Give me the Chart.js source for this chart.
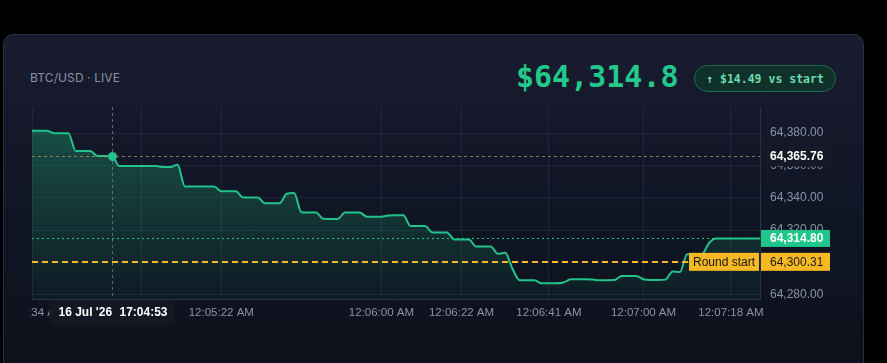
<!DOCTYPE html>
<html>
<head>
<meta charset="utf-8">
<script src="https://cdn.jsdelivr.net/npm/chart.js@4.4.0/dist/chart.umd.min.js"></script>
<style>
  html, body { margin: 0; padding: 0; background: #000; width: 887px; height: 363px; overflow: hidden; }
  .card {
    position: absolute; left: 3px; top: 34px; width: 861px; height: 360px;
    box-sizing: border-box; border: 1px solid #272b45; border-radius: 10px;
    background: linear-gradient(180deg, #181c2f 0%, #111626 45%, #0b1019 100%);
  }
  .title {
    position: absolute; left: 30px; top: 72px; font: 12px Inter, "Noto Sans", sans-serif;
    letter-spacing: 0.1px; color: #8b92a7; line-height: 12px;
  }
  .price {
    position: absolute; left: 516px; top: 62px; font: bold 30px "DejaVu Sans Mono", monospace;
    line-height: 30px; color: #22c98b;
  }
  .pill {
    position: absolute; left: 694px; top: 65px; width: 142px; height: 27px; box-sizing: border-box;
    border: 1px solid #1d6a50; border-radius: 14px; background: #10302a;
    display: flex; align-items: center; justify-content: center;
    font: bold 11.5px "DejaVu Sans Mono", monospace; color: #6fd9ae;
  }
  #wrap { position: absolute; left: 30px; top: 100px; width: 834px; height: 230px; }
</style>
</head>
<body>
<div class="card"></div>
<div class="title">BTC/USD · LIVE</div>
<div class="price">$64,314.8</div>
<div class="pill">↑ $14.49 vs start</div>
<div id="wrap"><canvas id="chart"></canvas></div>
<script>
// price samples (evenly spaced bars)
const prices = [
  64381.5, 64381.5, 64381.5, 64380, 64380, 64380, 64369, 64369, 64369, 64365.8,
  64365.8, 64365.76, 64359.6, 64359.6, 64359.6, 64359.6, 64359.6, 64359.6, 64359, 64359,
  64360.5, 64347, 64347, 64347, 64347, 64347, 64344, 64344, 64344, 64340.2,
  64340.2, 64340.2, 64336.6, 64336.6, 64336.6, 64342.5, 64343, 64331, 64330.8, 64330.8,
  64327, 64326.9, 64326.9, 64330.8, 64330.8, 64330.8, 64328.3, 64328.3, 64328.3, 64329,
  64329.1, 64329.1, 64322.5, 64322.5, 64322.5, 64318.5, 64318.5, 64318.5, 64314.2, 64314.2,
  64314.2, 64309.8, 64309.8, 64309.8, 64305.3, 64306, 64296, 64288.9, 64288.9, 64288.9,
  64287, 64287, 64287, 64287.5, 64289.5, 64289.5, 64289.5, 64289.3, 64288.9, 64288.9,
  64289, 64291.6, 64291.6, 64291.6, 64289.5, 64289.1, 64289.1, 64289.3, 64294.3, 64294,
  64305, 64305, 64305, 64312, 64314.8, 64314.8, 64314.8, 64314.8, 64314.8, 64314.8,
  64314.8
];
const timeTickIdx = [0, 15, 26, 48, 59, 71, 84, 96];
const timeTickLabels = ['12:04:34 AM', '12:05:04 AM', '12:05:22 AM', '12:06:00 AM', '12:06:22 AM', '12:06:41 AM', '12:07:00 AM', '12:07:18 AM'];
const priceTicks = [64280, 64300, 64320, 64340, 64360, 64380];
const roundStart = 64300.31;
const lastPrice = 64314.80;
const crossIdx = 11;
const crossPrice = 64365.76;
const crossDate = "16 Jul '26";
const crossTime = '17:04:53';

const colors = {
  line: '#22c38a',
  grid: 'rgba(120,135,170,0.13)',
  axis: '#2a3142',
  tick: '#8a93a6',
  yellow: '#f6b924',
  green: '#1fc689'
};

const fmt = v => v.toLocaleString('en-US', { minimumFractionDigits: 2, maximumFractionDigits: 2 });
const font = '"Liberation Sans", Arial, sans-serif';

function tag(ctx, x, y, w, h, bg, text, color, f, align) {
  ctx.fillStyle = bg;
  ctx.fillRect(x, y - h / 2, w, h);
  ctx.fillStyle = color;
  ctx.font = f;
  ctx.textBaseline = 'middle';
  ctx.textAlign = align || 'left';
  ctx.fillText(text, align === 'center' ? x + w / 2 : x + 9, y + 0.5);
}

const overlays = {
  id: 'overlays',
  afterDraw(chart) {
    const { ctx, chartArea: a, scales: { x, y } } = chart;
    ctx.save();

    // time labels
    ctx.font = '11.5px ' + font;
    ctx.fillStyle = colors.tick;
    ctx.textAlign = 'center';
    ctx.textBaseline = 'middle';
    timeTickIdx.forEach((i, k) => ctx.fillText(timeTickLabels[k], x.getPixelForValue(i), a.bottom + 14));

    // last price line
    ctx.lineWidth = 1;
    ctx.setLineDash([2, 3]);
    ctx.strokeStyle = colors.green;
    const yl = Math.round(y.getPixelForValue(lastPrice)) + 0.5;
    ctx.beginPath(); ctx.moveTo(a.left, yl); ctx.lineTo(a.right, yl); ctx.stroke();

    // round start line
    ctx.lineWidth = 2;
    ctx.setLineDash([6, 4]);
    ctx.strokeStyle = colors.yellow;
    const yr = Math.round(y.getPixelForValue(roundStart));
    ctx.beginPath(); ctx.moveTo(a.left, yr); ctx.lineTo(a.right, yr); ctx.stroke();

    // crosshair
    ctx.lineWidth = 1;
    ctx.setLineDash([3, 3]);
    const xc = Math.round(x.getPixelForValue(crossIdx)) + 0.5;
    const yc = Math.round(y.getPixelForValue(crossPrice)) + 0.5;
    ctx.strokeStyle = 'rgba(150,160,180,0.55)';
    ctx.beginPath(); ctx.moveTo(xc, a.top); ctx.lineTo(xc, a.bottom); ctx.stroke();
    ctx.strokeStyle = 'rgba(190,160,100,0.7)';
    ctx.beginPath(); ctx.moveTo(a.left, yc); ctx.lineTo(a.right, yc); ctx.stroke();
    ctx.setLineDash([]);
    ctx.fillStyle = colors.line;
    ctx.beginPath(); ctx.arc(xc, yc, 4.5, 0, Math.PI * 2); ctx.fill();

    // tags on price scale
    const tx = a.right + 1;
    tag(ctx, tx, yc, 69, 20, '#161a26', fmt(crossPrice), '#ffffff', 'bold 12px ' + font);
    tag(ctx, tx, y.getPixelForValue(lastPrice), 69, 17, colors.green, fmt(lastPrice), '#ffffff', 'bold 12px ' + font);
    tag(ctx, tx, y.getPixelForValue(roundStart), 69, 18, colors.yellow, fmt(roundStart), '#1a1a1a', '12px ' + font);
    tag(ctx, a.right - 71, y.getPixelForValue(roundStart), 70, 18, colors.yellow, 'Round start', '#141414', '12px ' + font, 'center');

    // crosshair time tag
    ctx.fillStyle = '#141823';
    ctx.fillRect(xc - 63, a.bottom + 1, 125, 25);
    ctx.fillStyle = '#ffffff';
    ctx.font = 'bold 12px ' + font;
    ctx.textAlign = 'left';
    ctx.textBaseline = 'middle';
    ctx.fillText(crossDate, xc - 54, a.bottom + 14);
    ctx.fillText(crossTime, xc + 7, a.bottom + 14);
    ctx.restore();
  }
};

const ctx = document.getElementById('chart').getContext('2d');
new Chart(ctx, {
  type: 'line',
  data: {
    labels: prices.map((_, i) => i),
    datasets: [{
      data: prices,
      borderColor: colors.line,
      borderWidth: 2,
      cubicInterpolationMode: 'monotone',
      pointRadius: 0,
      fill: 'start',
      backgroundColor: (c) => {
        const a = c.chart.chartArea;
        if (!a) return 'rgba(34,197,134,0.2)';
        const g = c.chart.ctx.createLinearGradient(0, a.top, 0, a.bottom);
        g.addColorStop(0, 'rgba(34,197,134,0.34)');
        g.addColorStop(1, 'rgba(34,197,134,0.05)');
        return g;
      }
    }]
  },
  options: {
    responsive: true,
    maintainAspectRatio: false,
    animation: false,
    layout: { padding: { left: 2, top: 7, right: 0, bottom: 0 } },
    plugins: { legend: { display: false }, tooltip: { enabled: false } },
    scales: {
      x: {
        type: 'category',
        ticks: { display: false },
        grid: {
          color: (c) => timeTickIdx.includes(c.index) ? colors.grid : 'transparent',
          drawTicks: false
        },
        border: { color: colors.axis },
        afterFit: (s) => { s.height = 31; s.paddingLeft = 0; s.paddingRight = 0; }
      },
      y: {
        position: 'right',
        min: 64277.3,
        max: 64396.2,
        afterBuildTicks: (s) => { s.ticks = priceTicks.map(v => ({ value: v })); },
        ticks: {
          crossAlign: 'near',
          padding: 10,
          color: colors.tick,
          font: { family: font, size: 12 },
          callback: (v) => fmt(v)
        },
        grid: { color: colors.grid, drawTicks: false },
        border: { color: colors.axis },
        afterFit: (s) => { s.width = 104; s.paddingTop = 0; s.paddingBottom = 0; }
      }
    }
  },
  plugins: [overlays]
});
</script>
</body>
</html>
